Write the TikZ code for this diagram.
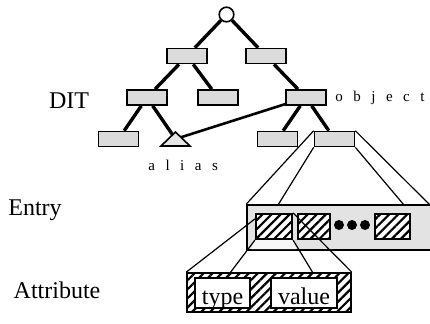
\documentclass[tikz,border=0pt]{standalone}
\usepackage{fontspec}
\setmainfont{Liberation Serif}
\newfontfamily\spacedfont[LetterSpace=70]{Liberation Serif}
\usetikzlibrary{patterns.meta}

\begin{document}
\begin{tikzpicture}[x=0.5pt, y=-0.5pt,
  level distance=20.75pt,
  level 1/.style={sibling distance=39.5pt},
  level 2/.style={sibling distance=35.5pt},
  level 3/.style={sibling distance=28.5pt},
  edge from parent/.style={draw, line width=1.7pt},
  dit/.style={rectangle, draw=black, line width=0.8pt, fill=gray!28, minimum width=20pt, minimum height=7.5pt, inner sep=0pt},
  linkmark/.style={draw=black, line width=0.8pt, fill=gray!20},
  hatch/.style={preaction={fill=white}, pattern={Lines[angle=45,distance=3.2pt,line width=1.1pt]}},
  slot/.style={rectangle, draw=black, line width=0.8pt, hatch, minimum height=12.5pt, inner sep=0pt},
  dot/.style={circle, fill=black, minimum size=5pt, inner sep=0pt},
  field/.style={rectangle, draw=black, line width=0.8pt, fill=white, minimum height=15pt, inner sep=0pt, text height=11.5pt, text depth=0pt, font=\fontsize{12}{14}\selectfont},
  proj/.style={line width=0.6pt},
  rowname/.style={font=\fontsize{12}{14}\selectfont},
  tag/.style={font=\spacedfont\fontsize{7.5}{9}\selectfont, inner sep=0pt}]
\useasboundingbox (0,0) rectangle (430,323);

\node [circle, draw=black, line width=0.8pt, fill=white, minimum size=7.3pt, inner sep=0pt] (root) at (226.5,14.5) {}
  child {
    node [dit] (a) {}
    child [xshift=-2.25pt] {
      node [dit] (aa) {}
      child {
        node [dit] (aaa) {}
      }
      child {
        coordinate (tri)
      }
    }
    child [xshift=-2.25pt] {
      node [dit] (ab) {}
    }
  }
  child {
    node [dit] (b) {}
    child [missing]
    child [xshift=2.25pt] {
      node [dit] (obj) {}
      child {
        node [dit] (objl) {}
      }
      child {
        node [dit] (eroot) {}
      }
    }
  };

\draw [line width=1.3pt] (obj) -- (tri);
\filldraw [linkmark] ([shift={(0,-7)}]tri) -- ++(14.5,14) -- ++(-29,0) -- cycle;

\node [tag, anchor=west] (objname) at (335,98) {object};
\node [tag, anchor=west] (aliasname) at (148,165) {alias};

\node [rowname] (dit) at (69,101) {DIT};
\node [rowname] (entryname) at (35,210) {Entry};
\node [rowname] (attrname) at (57,290) {Attribute};

\node [rectangle, draw=black, line width=0.8pt, fill=gray!22, minimum width=93.5pt, minimum height=22.5pt, inner sep=0pt] (entry) at (340.5,227.5) {};
\coordinate (e1) at (278,205);
\coordinate (e2) at (404,205);
\coordinate (e3) at (430,205);
\draw [proj] (eroot.north west) -- (entry.north west);
\draw [proj] (eroot.south west) -- (e1);
\draw [proj] (eroot.south east) -- (e2);
\draw [proj] (eroot.north east) -- (e3);

\node [slot, minimum width=18pt] (s1) at (274,226.5) {};
\node [slot, minimum width=16pt] (s2) at (314,226.5) {};
\node [slot, minimum width=17.5pt] (s3) at (392.5,226.5) {};
\node [dot] (d1) at (339,225) {};
\node [dot] (d2) at (352,225) {};
\node [dot] (d3) at (365,225) {};
\fill [gray!6] (s1.south west) -- (s1.south east) -- (296,249) -- (251,249) -- cycle;

\node [rectangle, draw=black, line width=0.8pt, hatch, minimum width=82pt, minimum height=19.5pt, inner sep=0pt] (attr) at (269,292.5) {};
\node [field, minimum width=27.5pt] (type) at (222.5,293) {type};
\node [field, minimum width=33pt] (value) at (304,293) {value};
\coordinate (a2) at (230,273);
\coordinate (a3) at (313,273);
\draw [proj] ([yshift=-3pt]s1.north west) -- (attr.north west);
\draw [proj] (s1.south west) -- (a2);
\draw [proj] (s1.south east) -- (a3);
\draw [proj] (s1.north east) -- (attr.north east);
\end{tikzpicture}
\end{document}
